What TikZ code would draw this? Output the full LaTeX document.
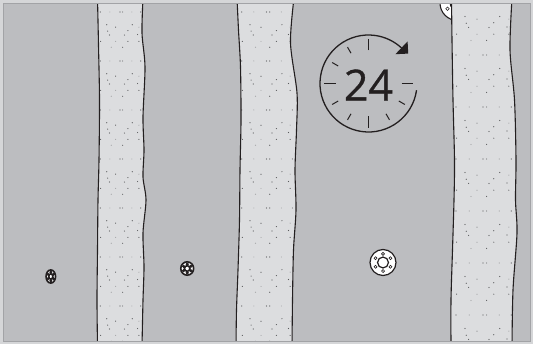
\documentclass[tikz,border=0pt]{standalone}
\usepackage{fontspec}
\newfontfamily\clockfont[FakeBold=0.8]{Open Sans}

\definecolor{paper}{HTML}{D5D6D8}
\definecolor{ground}{HTML}{BCBDC0}
\definecolor{frameline}{HTML}{A2A3A6}
\definecolor{walkway}{HTML}{DCDDDF}
\definecolor{ink}{HTML}{231F20}
\definecolor{speckdark}{HTML}{5A5B5D}
\definecolor{specklight}{HTML}{A5A6A8}

\tikzset{
  stripfill/.style={fill=walkway},
  bankline/.style={draw=ink, line width=1.1pt, line cap=round},
  speckA/.style={fill=speckdark},
  speckB/.style={fill=specklight},
  clockline/.style={draw=ink, line width=1.3pt},
  ticklong/.style={draw=ink, line width=1.2pt},
  tickshort/.style={draw=ink, line width=1pt},
}

% gravel speckles repeated down a strip: left x, width, first row y, row period
\newcommand\stripdots[4]{%
  \foreach \k in {-1,...,7}{
    \foreach \u/\v/\c in {0.05/0/speckA, 0.27/0/speckB, 0.50/0/speckA, 0.56/0/speckA,
        0.77/0/speckB, 0.97/0/speckA, 0.20/0.26/speckA, 0.78/0.26/speckA,
        0.40/0.31/speckA, 0.93/0.31/speckB, 0.22/0.39/speckA, 0.68/0.38/speckA,
        0.26/0.47/speckA, 0.60/0.47/speckA, 0.90/0.46/speckA, 0.06/0.60/speckA,
        0.40/0.60/speckB, 0.68/0.60/speckA, 0.93/0.60/speckA, 0.30/0.72/speckB,
        0.56/0.72/speckA}{
      \fill[\c] (#1+\u*#2, #3+\k*#4+\v*#4) circle (0.6);
    }
  }
}

% a strip with wavy banks: left bank (top to bottom), right bank (bottom to top), texture data
\newcommand\drawstrip[6]{%
  \fill[stripfill] plot[smooth] coordinates {#1} -- plot[smooth] coordinates {#2} -- cycle;
  \begin{scope}
    \clip plot[smooth] coordinates {#1} -- plot[smooth] coordinates {#2} -- cycle;
    \stripdots{#3}{#4}{#5}{#6}
  \end{scope}
  \draw[bankline] plot[smooth] coordinates {#1};
  \draw[bankline] plot[smooth] coordinates {#2};
}

% manhole cover: centre x, centre y, radius, horizontal squash, rim width, hole radius, hole fill
\newcommand\manhole[7]{%
  \begin{scope}[shift={(#1,#2)}]
    \filldraw[fill=white, draw=ink, line width=#5] (0,0) ellipse [x radius=#3*#4, y radius=#3];
    \foreach \a in {30,90,...,330}{
      \filldraw[fill=#7, draw=ink, line width=0.6pt]
        ({#4*0.66*#3*cos(\a)}, {0.66*#3*sin(\a)}) circle (#6);
    }
    \draw[ink, line width=#5] (0,0) ellipse [x radius=0.42*#3*#4, y radius=0.42*#3];
  \end{scope}
}

\begin{document}
\begin{tikzpicture}[x=1pt, y=-1pt]
  \useasboundingbox (0,0) rectangle (533,344);
  \fill[paper] (0,0) rectangle (533,344);
  \fill[ground] (3.5,3.5) rectangle (530,341.5);

  \begin{scope}
    \clip (3.5,3.5) rectangle (530,341.5);

    % cover partly under the right-hand strip
    \manhole{457.5}{3}{17.5}{1}{1.1pt}{1.8}{white}

    % left strip
    \drawstrip{(97.5,-2) (98.5,45) (99.5,100) (99,160) (98,200) (97.5,250) (97,300) (97.5,346)}
              {(142,346) (143,300) (144,267) (143,233) (146,200) (143,177) (144,150) (143,117) (145,67) (142,33) (143,-2)}
              {98}{44}{12}{49}
    % middle strip
    \drawstrip{(237,-2) (238.5,30) (240.5,67) (241,120) (240,170) (239.5,220) (238,270) (236.5,310) (236,346)}
              {(292,346) (292.5,300) (293.5,250) (296,210) (295,170) (296.5,130) (297,93) (290.5,43) (294,-2)}
              {239}{55}{12}{49}
    % right strip
    \drawstrip{(451.5,-2) (452,40) (453,100) (454.5,160) (454,200) (452.5,250) (451,300) (451,346)}
              {(512,346) (513,290) (517,233) (515.5,200) (516,160) (514.5,100) (510,50) (512,-2)}
              {453}{60}{3}{52}
  \end{scope}
  \draw[frameline, line width=0.8pt] (3.5,3.5) rectangle (530,341.5);

  % small covers in the open ground
  \manhole{50.8}{276.5}{6.6}{0.72}{1.6pt}{1.2}{ink}
  \manhole{187.2}{268.5}{6.7}{0.96}{1.6pt}{1.3}{ink}
  \manhole{383}{262.5}{13}{1}{1.2pt}{1.5}{white}

  % 24-hour clock
  \coordinate (clockc) at (368.5,83.5);
  \draw[clockline] ([shift={(8:48.5)}]clockc) arc[start angle=8, end angle=313, radius=48.5];
  \fill[ink] (408.2,53.6) -- (407.6,41.4) -- (395.4,54.2) -- cycle;
  \foreach \a in {0,90,180,270}
    \draw[ticklong] ([shift={(\a:33)}]clockc) -- ([shift={(\a:44.5)}]clockc);
  \foreach \a in {30,60,120,150,210,240}
    \draw[tickshort] ([shift={(\a:35)}]clockc) -- ([shift={(\a:42)}]clockc);
  \node[text=ink, inner sep=0pt, font=\clockfont\fontsize{43}{43}\selectfont] (hours) at (368.5,85) {24};
\end{tikzpicture}
\end{document}
